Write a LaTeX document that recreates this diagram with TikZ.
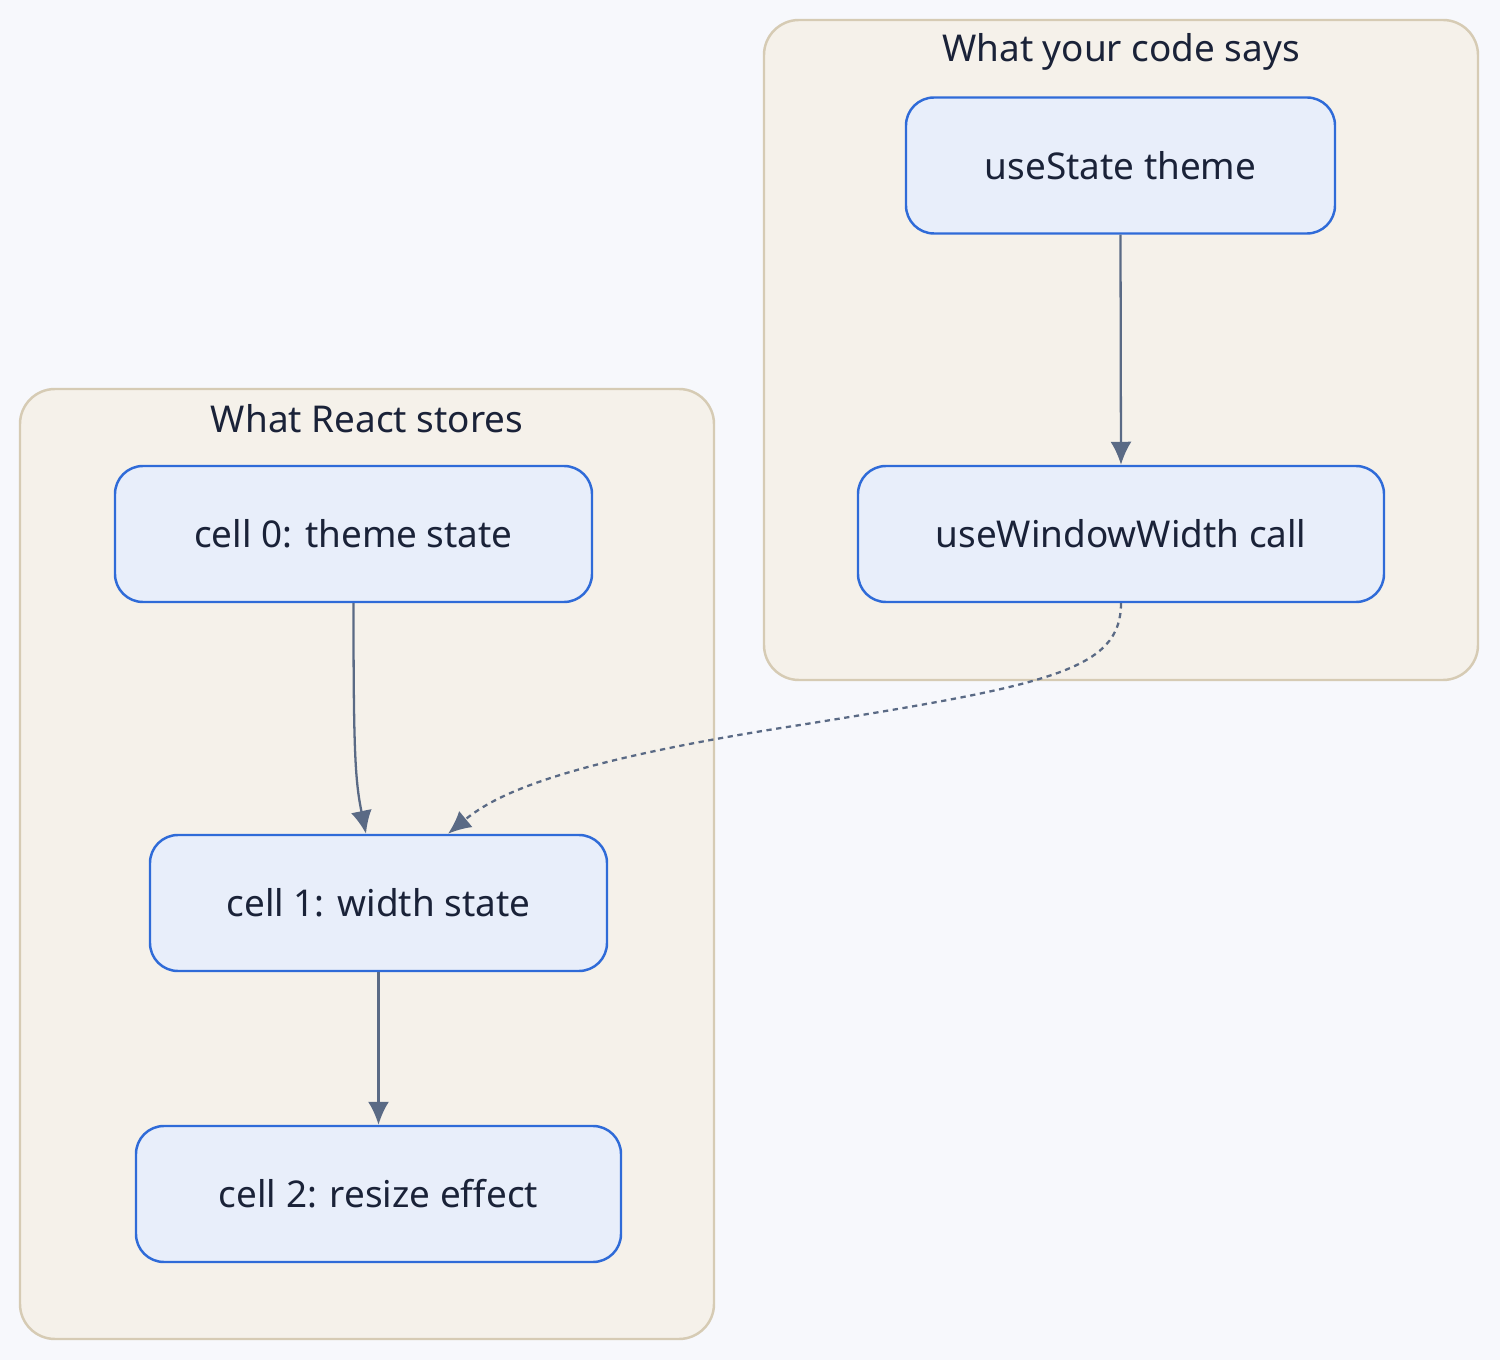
\documentclass[tikz,border=0pt]{standalone}
\usepackage{fontspec}
\setmainfont{Noto Sans}
\usetikzlibrary{arrows.meta}

\definecolor{pagebg}{HTML}{F7F8FC}
\definecolor{clusterfill}{HTML}{F5F1EA}
\definecolor{clusterline}{HTML}{D6CBB4}
\definecolor{boxfill}{HTML}{E8EEFA}
\definecolor{boxline}{HTML}{2F6BD8}
\definecolor{inktext}{HTML}{1A2238}
\definecolor{edgeline}{HTML}{5A6A85}

\begin{document}
\begin{tikzpicture}[>={Latex[length=2.3mm,width=2.1mm]}]

% --- Styles ---
\tikzset{
    cluster/.style={fill=clusterfill, draw=clusterline, line width=0.7pt, rounded corners=0.35cm},
    title/.style={text=inktext, font=\fontsize{10.5pt}{12pt}\selectfont},
    cell/.style={
        rectangle,
        rounded corners=0.28cm,
        fill=boxfill,
        draw=boxline,
        line width=0.7pt,
        text=inktext,
        font=\fontsize{10.5pt}{12pt}\selectfont,
        minimum height=1.36cm
    },
    flow/.style={->, draw=edgeline, line width=0.65pt},
    link/.style={->, draw=edgeline, line width=0.65pt, dash pattern=on 1.5pt off 1.3pt}
}

% Background
\fill[pagebg] (0,0) rectangle (15,-13.6);
\useasboundingbox (0,0) rectangle (15,-13.6);

% Cluster: What React stores
\path[cluster] (0.2,-3.89) rectangle (7.14,-13.39);
\node[title] (ttlreact) at (3.67,-4.19) {What React stores};

% Cluster: What your code says
\path[cluster] (7.64,-0.2) rectangle (14.78,-6.8);
\node[title] (ttlcode) at (11.21,-0.52) {What your code says};

% Cells in React
\node[cell, minimum width=4.77cm] (cell0) at (3.535,-5.34) {cell 0: theme state};
\node[cell, minimum width=4.57cm] (cell1) at (3.785,-9.03) {cell 1: width state};
\node[cell, minimum width=4.85cm] (cell2) at (3.785,-11.94) {cell 2: resize effect};

% Hooks in code
\node[cell, minimum width=4.29cm] (usestate) at (11.205,-1.655) {useState theme};
\node[cell, minimum width=5.26cm] (usewidth) at (11.21,-5.34) {useWindowWidth call};

% Arrows inside the clusters
\draw[flow] (usestate.south) -- (usewidth.north);
\draw[flow] (cell0.south) .. controls (3.535,-7.5) and (3.55,-7.8) .. ([xshift=-0.125cm]cell1.north);
\draw[flow] (cell1.south) -- (cell2.north);

% Call maps onto cell 1
\draw[link] (usewidth.south) .. controls (11.21,-6.7) and (10.5,-6.85) .. (8.0,-7.25)
    .. controls (5.6,-7.62) and (4.95,-7.95) .. ([xshift=0.695cm]cell1.north);

\end{tikzpicture}
\end{document}
